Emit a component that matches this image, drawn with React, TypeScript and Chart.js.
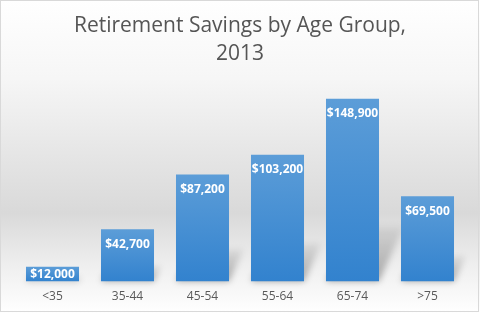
import { useEffect, useRef } from "react";
import { Chart, registerables } from "chart.js";

Chart.register(...registerables);

const categories = ["<35", "35-44", "45-54", "55-64", "65-74", ">75"];
const savings = [12000, 42700, 87200, 103200, 148900, 69500];
const valueLabels = ["$12,000", "$42,700", "$87,200", "$103,200", "$148,900", "$69,500"];
const titleLines = ["Retirement Savings by Age Group,", "2013"];
const yMax = 160000;

const backgroundPlugin = {
  id: "bgPlugin",
  beforeDraw(chart: any) {
    const { ctx, width, height } = chart;
    ctx.save();
    const g = ctx.createLinearGradient(0, 0, 0, height);
    g.addColorStop(0, "#ffffff");
    g.addColorStop(0.25, "#f6f6f6");
    g.addColorStop(0.68, "#d9d9d9");
    g.addColorStop(0.86, "#f0f0f0");
    g.addColorStop(1, "#ffffff");
    ctx.fillStyle = g;
    ctx.fillRect(0, 0, width, height);
    ctx.strokeStyle = "#d9d9d9";
    ctx.lineWidth = 1;
    ctx.strokeRect(0.5, 0.5, width - 2, height - 2);
    ctx.restore();
  },
};

const shadowPlugin = {
  id: "shadowPlugin",
  beforeDatasetsDraw(chart: any) {
    const { ctx } = chart;
    const meta = chart.getDatasetMeta(0);
    ctx.save();
    ctx.filter = "blur(3px)";
    meta.data.forEach((bar: any) => {
      const h = bar.base - bar.y;
      const half = bar.width / 2;
      const x1 = bar.x - half;
      const x2 = bar.x + half;
      const dh = h * 0.3;
      const dx = dh * 0.45;
      const g = ctx.createLinearGradient(0, bar.base, 0, bar.base - dh);
      g.addColorStop(0, "rgba(0,0,0,0.32)");
      g.addColorStop(1, "rgba(0,0,0,0.06)");
      ctx.fillStyle = g;
      ctx.beginPath();
      ctx.moveTo(x1, bar.base);
      ctx.lineTo(x2, bar.base);
      ctx.lineTo(x2 + dx, bar.base - dh);
      ctx.lineTo(x1 + dx, bar.base - dh);
      ctx.closePath();
      ctx.fill();
    });
    ctx.restore();
  },
};

const labelPlugin = {
  id: "labelPlugin",
  afterDatasetsDraw(chart: any) {
    const { ctx } = chart;
    const meta = chart.getDatasetMeta(0);
    ctx.save();
    ctx.fillStyle = "#ffffff";
    ctx.font = "bold 12px 'Open Sans'";
    ctx.textAlign = "center";
    ctx.textBaseline = "middle";
    meta.data.forEach((bar: any, i: number) => {
      const y = Math.min(bar.y + 15, (bar.y + bar.base) / 2);
      ctx.fillText(valueLabels[i], bar.x, y);
    });
    ctx.restore();
  },
};

export default function App() {
  const ref = useRef<HTMLCanvasElement | null>(null);

  useEffect(() => {
    document.body.style.margin = "0";
    if (!ref.current) return;
    const chart = new Chart(ref.current, {
      type: "bar",
      data: {
        labels: categories,
        datasets: [
          {
            data: savings,
            categoryPercentage: 1,
            barPercentage: 0.707,
            backgroundColor: (c: any) => {
              const ch = c.chart;
              if (!ch.chartArea || c.type !== "data") return "#5b9bd5";
              const ys = ch.scales.y;
              const top = ys.getPixelForValue(c.parsed?.y ?? savings[c.dataIndex]);
              const bottom = ys.getPixelForValue(0);
              if (!isFinite(top) || !isFinite(bottom) || top === bottom) return "#5b9bd5";
              const g = ch.ctx.createLinearGradient(0, top, 0, bottom);
              g.addColorStop(0, "#5c9dd8");
              g.addColorStop(1, "#3282ce");
              return g;
            },
            borderWidth: 0,
          },
        ],
      },
      options: {
        animation: false,
        responsive: true,
        maintainAspectRatio: false,
        layout: { padding: { left: 15, right: 15, top: 0, bottom: 1 } },
        plugins: {
          legend: { display: false },
          tooltip: { enabled: false },
          title: {
            display: true,
            text: titleLines,
            color: "#555555",
            font: { family: "'Open Sans'", size: 21, weight: "normal", lineHeight: 1.333 },
            padding: { top: 12, bottom: 17 },
          },
        },
        scales: {
          x: {
            grid: { display: false, drawTicks: false, tickLength: 0 },
            border: { display: false },
            ticks: {
              color: "#595959",
              font: { family: "'Open Sans'", size: 12, lineHeight: 1.2 },
              padding: 8,
            },
          },
          y: {
            display: false,
            min: 0,
            max: yMax,
          },
        },
      },
      plugins: [backgroundPlugin, shadowPlugin, labelPlugin],
    });
    return () => chart.destroy();
  }, []);

  return (
    <div style={{ position: "fixed", left: 0, top: 0, width: 480, height: 313 }}>
      <canvas ref={ref} />
    </div>
  );
}
